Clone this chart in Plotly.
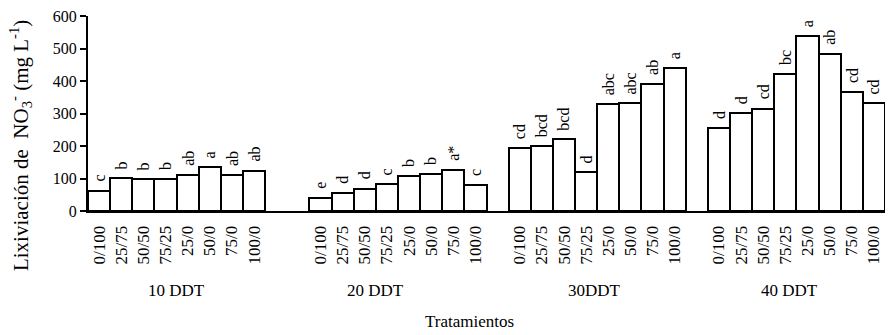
import plotly.graph_objects as go

groups = ["10 DDT", "20 DDT", "30DDT", "40 DDT"]
treatments = ["0/100", "25/75", "50/50", "75/25", "25/0", "50/0", "75/0", "100/0"]

v10 = [62, 101, 98, 100, 112, 135, 112, 123]
v20 = [41, 55, 69, 83, 108, 114, 126, 80]
v30 = [194, 200, 221, 119, 329, 332, 391, 440]
v40 = [255, 301, 315, 421, 538, 484, 367, 332]

l10 = ["c", "b", "b", "b", "ab", "a", "ab", "ab"]
l20 = ["e", "d", "d", "c", "b", "b", "a*", "c"]
l30 = ["cd", "bcd", "bcd", "d", "abc", "abc", "ab", "a"]
l40 = ["d", "d", "cd", "bc", "a", "ab", "cd", "cd"]

values = [v10, v20, v30, v40]
letters = [l10, l20, l30, l40]

# layout: slot start of each group (bar width = 1 slot)
group_start = [0, 10, 19, 28]
label_offset = [0.0, -1.0, -0.1, -0.3]

FONT = "Liberation Serif"

xs, ys, ticktext, lets = [], [], [], []
for g, start in enumerate(group_start):
    for i, t in enumerate(treatments):
        xs.append(start + i + 0.5)
        ys.append(values[g][i])
        ticktext.append(t)
        lets.append(letters[g][i])

fig = go.Figure()
fig.add_trace(go.Bar(
    x=xs, y=ys, width=1,
    marker=dict(color="white", line=dict(color="black", width=2)),
    showlegend=False, hoverinfo="x+y",
))

annotations = []
for x, y, t in zip(xs, ys, lets):
    annotations.append(dict(
        x=x, y=y, xref="x", yref="y", text=t, textangle=-90,
        showarrow=False, xanchor="center", yanchor="bottom", yshift=7,
        font=dict(family=FONT, size=16, color="black"),
    ))

for g, start in enumerate(group_start):
    annotations.append(dict(
        x=start + 4 + label_offset[g], y=-0.41, xref="x", yref="paper",
        text=groups[g], showarrow=False, xanchor="center", yanchor="middle",
        font=dict(family=FONT, size=17, color="black"),
    ))

annotations.append(dict(
    x=0.479, y=-0.569, xref="paper", yref="paper", text="Tratamientos",
    showarrow=False, xanchor="center", yanchor="middle",
    font=dict(family=FONT, size=17, color="black"),
))

annotations.append(dict(
    x=0, y=0.333, xref="paper", yref="paper", xshift=-68,
    text="Lixiviación de  NO<sub>3</sub><sup>-</sup> (mg L<sup>-1</sup>)",
    textangle=-90, showarrow=False, xanchor="center", yanchor="middle",
    font=dict(family=FONT, size=21, color="black"),
))

fig.update_layout(
    width=896, height=335,
    margin=dict(l=88, r=11, t=16, b=124, autoexpand=False),
    paper_bgcolor="white", plot_bgcolor="white",
    bargap=0,
    annotations=annotations,
    font=dict(family=FONT, color="black"),
)
fig.update_xaxes(
    range=[0, 36], tickmode="array", tickvals=xs, ticktext=ticktext,
    tickangle=-90, ticks="", showgrid=False, zeroline=False,
    showline=True, linecolor="black", linewidth=2, automargin=False,
    tickfont=dict(family=FONT, size=17, color="black"),
    ticklabelstandoff=6,
)
fig.update_yaxes(
    range=[0, 600], dtick=100, ticks="outside", ticklen=6, tickwidth=2,
    tickcolor="black", showgrid=False, zeroline=False, automargin=False,
    showline=True, linecolor="black", linewidth=2,
    tickfont=dict(family=FONT, size=16, color="black"),
)

fig.write_html(
    "out.html",
    config={"displayModeBar": False},
    post_script="document.body.style.margin='0';document.body.style.overflow='hidden';",
)
